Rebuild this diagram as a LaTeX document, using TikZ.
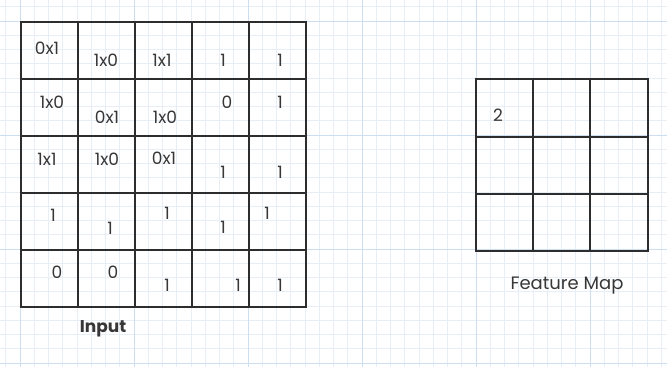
\documentclass[tikz,border=0pt]{standalone}
\usepackage{fontspec}
\setmainfont{Poppins}
\definecolor{minorgrid}{RGB}{231,238,246}
\definecolor{majorgrid}{RGB}{205,222,240}
\definecolor{ink}{RGB}{45,45,45}
\definecolor{txt}{RGB}{55,55,55}
\begin{document}
\begin{tikzpicture}[x=1pt,y=-1pt,
  cellline/.style={draw=ink,line width=2pt},
  val/.style={text=txt,font=\fontsize{17}{17}\selectfont,inner sep=0pt},
  lbl/.style={text=txt,inner sep=0pt}]
\useasboundingbox (0,0) rectangle (667,367);
\fill[white] (0,0) rectangle (667,367);
% background graph paper
\foreach \i in {0,...,47} {
  \draw[minorgrid,line width=0.7pt] ({5.75+14.25*\i},0) -- ({5.75+14.25*\i},367);
}
\foreach \i in {0,...,26} {
  \draw[minorgrid,line width=0.7pt] (0,{6.75+14.25*\i}) -- (667,{6.75+14.25*\i});
}
\foreach \x in {20,134,248,362,476,590} {
  \draw[majorgrid,line width=0.8pt] (\x,0) -- (\x,367);
}
\foreach \y in {21,135,249,363} {
  \draw[majorgrid,line width=0.8pt] (0,\y) -- (667,\y);
}
% input grid
\foreach \x in {21,78,135,192,249,306} {
  \draw[cellline,line cap=rect] (\x,22) -- (\x,307);
}
\foreach \y in {22,79,136,193,250,307} {
  \draw[cellline,line cap=rect] (21,\y) -- (306,\y);
}
% feature map grid
\foreach \x in {476,533,590,648} {
  \draw[cellline,line cap=rect] (\x,79) -- (\x,251);
}
\foreach \y in {79,137,194,251} {
  \draw[cellline,line cap=rect] (476,\y) -- (648,\y);
}
% row 1
\node[val] (a11) at (47,48) {0x1};
\node[val] (a12) at (106,60) {1x0};
\node[val] (a13) at (162,60) {1x1};
\node[val] (a14) at (223,60) {1};
\node[val] (a15) at (280,60) {1};
% row 2
\node[val] (a21) at (52,102) {1x0};
\node[val] (a22) at (107,117) {0x1};
\node[val] (a23) at (165,117) {1x0};
\node[val] (a24) at (227,102) {0};
\node[val] (a25) at (280,102) {1};
% row 3
\node[val] (a31) at (47,159) {1x1};
\node[val] (a32) at (107,159) {1x0};
\node[val] (a33) at (164,158) {0x1};
\node[val] (a34) at (223,172) {1};
\node[val] (a35) at (280,172) {1};
% row 4
\node[val] (a41) at (53,215) {1};
\node[val] (a42) at (110,228) {1};
\node[val] (a43) at (167,213) {1};
\node[val] (a44) at (223,227) {1};
\node[val] (a45) at (267,213) {1};
% row 5
\node[val] (a51) at (57,272) {0};
\node[val] (a52) at (113,272) {0};
\node[val] (a53) at (167,285) {1};
\node[val] (a54) at (238,285) {1};
\node[val] (a55) at (280,285) {1};
% labels
\node[lbl,font=\fontsize{17}{17}\selectfont\bfseries] (input) at (103,329) {Input};
\node[val] (f11) at (498,115) {2};
\node[lbl,font=\fontsize{18}{18}\selectfont] (fmap) at (567,286) {Feature Map};
\end{tikzpicture}
\end{document}
